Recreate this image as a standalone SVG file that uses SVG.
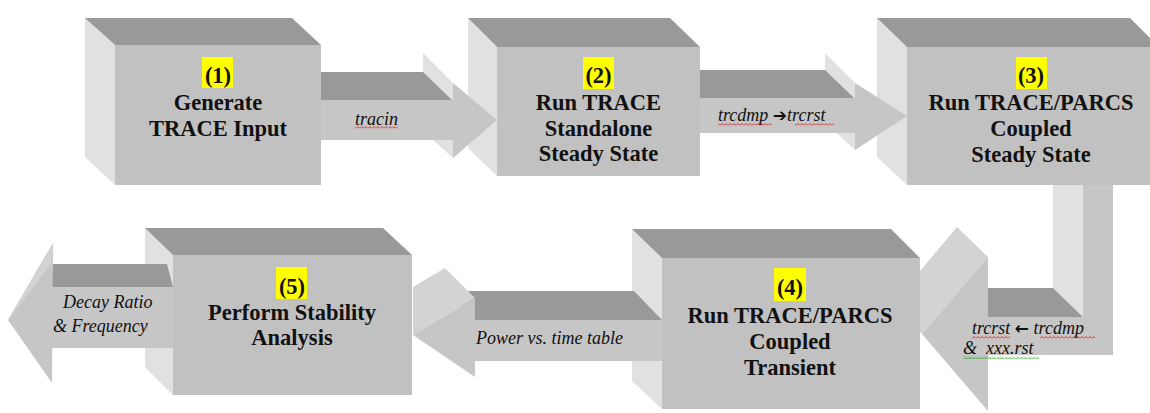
<svg xmlns="http://www.w3.org/2000/svg" width="1150" height="413" viewBox="0 0 1150 413">
<defs>
<pattern id="wavyRed" width="4" height="3" patternUnits="userSpaceOnUse"><polyline points="0,2.5 2,0.5 4,2.5" fill="none" stroke="#e02020" stroke-width="0.9"/></pattern>
<pattern id="wavyGreen" width="4" height="3" patternUnits="userSpaceOnUse"><polyline points="0,2.5 2,0.5 4,2.5" fill="none" stroke="#20a020" stroke-width="0.9"/></pattern>
</defs>
<style>
.top{fill:#999999}
.front{fill:#c1c1c1}
.left{fill:#e1e1e1}
.afront{fill:#c6c6c6}
.aside{fill:#d3d3d3}
.hl{fill:#ffff00}
.t{font-family:'Liberation Serif','DejaVu Serif',serif;font-weight:bold;font-size:22.5px;fill:#111;text-anchor:middle}
.l{font-family:'Liberation Serif','DejaVu Serif',serif;font-style:italic;font-size:18px;fill:#111}
.ar{font-family:'DejaVu Sans',sans-serif;font-weight:bold;font-style:normal;font-size:17px}
</style>
<rect width="1150" height="413" fill="#ffffff"/>

<g id="node1">
<polygon class="left" points="85,18 115,45 115,185 85,157"/>
<polygon class="top" points="85,18 292,18 321,45 115,45"/>
<rect class="front" x="115" y="45" width="206" height="140"/>
<rect class="hl" x="202" y="57" width="31" height="31"/>
<text class="t" x="218" y="83">(1)</text>
<text class="t" x="218" y="110">Generate</text>
<text class="t" x="218" y="136">TRACE Input</text>
</g>

<g id="node2">
<polygon class="left" points="468,18 497,47 497,176 468,148"/>
<polygon class="top" points="468,18 670,18 700,47 497,47"/>
<rect class="front" x="497" y="47" width="203" height="129"/>
<rect class="hl" x="583" y="57" width="31" height="32"/>
<text class="t" x="598.5" y="83">(2)</text>
<text class="t" x="598.5" y="110">Run TRACE</text>
<text class="t" x="598.5" y="136">Standalone</text>
<text class="t" x="598.5" y="161">Steady State</text>
</g>

<g id="node3">
<polygon class="left" points="877,18 907,47 907,185 877,157"/>
<polygon class="top" points="877,18 1130,18 1159,47 907,47"/>
<rect class="front" x="907" y="47" width="252" height="138"/>
<rect class="hl" x="1016" y="57" width="31" height="32"/>
<text class="t" x="1031" y="83">(3)</text>
<text class="t" x="1031" y="110">Run TRACE/PARCS</text>
<text class="t" x="1031" y="136">Coupled</text>
<text class="t" x="1031" y="162">Steady State</text>
</g>

<g id="node4">
<polygon class="left" points="632,229 662,258 662,409 632,381"/>
<polygon class="top" points="632,229 891,229 920,258 662,258"/>
<rect class="front" x="662" y="258" width="258" height="151"/>
<rect class="hl" x="774" y="268" width="32" height="33"/>
<text class="t" x="790" y="295">(4)</text>
<text class="t" x="790" y="323">Run TRACE/PARCS</text>
<text class="t" x="790" y="349">Coupled</text>
<text class="t" x="790" y="375">Transient</text>
</g>

<g id="node5">
<polygon class="left" points="145,228 173,255 173,395 145,367"/>
<polygon class="top" points="145,228 383,228 412,255 173,255"/>
<rect class="front" x="173" y="255" width="239" height="140"/>
<rect class="hl" x="276" y="267" width="31" height="32"/>
<text class="t" x="292" y="294">(5)</text>
<text class="t" x="292" y="320">Perform Stability</text>
<text class="t" x="292" y="345">Analysis</text>
</g>

<g id="connectors">
<g id="c12">
<polygon class="left" points="423,53 453,83 453,158 423,131"/>
<polygon class="top" points="321,72 423,72 452,100 321,100"/>
<rect class="afront" x="321" y="100" width="132" height="40"/>
<polygon class="afront" points="453,83 497,120 453,158"/>
<text class="l" x="355" y="125">tracin</text>
<rect x="355" y="126" width="43" height="3" fill="url(#wavyRed)"/>
</g>
<g id="c23">
<polygon class="left" points="825,53 855,83 855,150 825,122"/>
<polygon class="top" points="700,70 825,70 854,98 700,98"/>
<rect class="afront" x="700" y="98" width="155" height="35"/>
<polygon class="afront" points="855,83 907,116 855,150"/>
<text class="l" x="718" y="121">trcdmp <tspan class="ar">➔</tspan>trcrst</text>
<rect x="718" y="123" width="54" height="3" fill="url(#wavyRed)"/>
<rect x="795" y="123" width="39" height="3" fill="url(#wavyRed)"/>
</g>
<g id="c34">
<polygon class="left" points="1053,185 1083,185 1083,317 1053,288"/>
<polygon class="top" points="988,288 1053,288 1083,317 988,317"/>
<polygon class="afront" points="1083,185 1113,185 1113,355 988,355 988,317 1083,317"/>
<polygon class="aside" points="957,227 988,257 922,334 920,332 920,271"/>
<polygon class="afront" points="988,257 922,334 988,411"/>
<text class="l" x="972" y="334">trcrst <tspan class="ar">←</tspan> trcdmp</text>
<text class="l" x="963" y="354" xml:space="preserve">&amp;  xxx.rst</text>
<rect x="972" y="336" width="38" height="3" fill="url(#wavyRed)"/>
<rect x="1040" y="336" width="55" height="3" fill="url(#wavyRed)"/>
<rect x="963" y="356" width="76" height="3" fill="url(#wavyGreen)"/>
</g>
<g id="c45">
<polygon class="top" points="445,291 634,291 662,320 475,320"/>
<rect class="afront" x="475" y="320" width="187" height="41"/>
<polygon class="aside" points="445,268 475,298 413,335 413,287"/>
<polygon class="afront" points="475,298 413,335 475,377"/>
<text class="l" x="476" y="344">Power vs. time table</text>
</g>
<g id="c5out">
<polygon class="top" points="53,264 167,264 173,287 50,287"/>
<rect class="afront" x="50" y="287" width="123" height="61"/>
<polygon class="afront" points="53,243 8,320 52,383"/>
<polygon class="aside" points="53,243 8,320 51,264"/>
<text class="l" x="63" y="308">Decay Ratio</text>
<text class="l" x="53" y="332">&amp; Frequency</text>
</g>
</g>
</svg>
